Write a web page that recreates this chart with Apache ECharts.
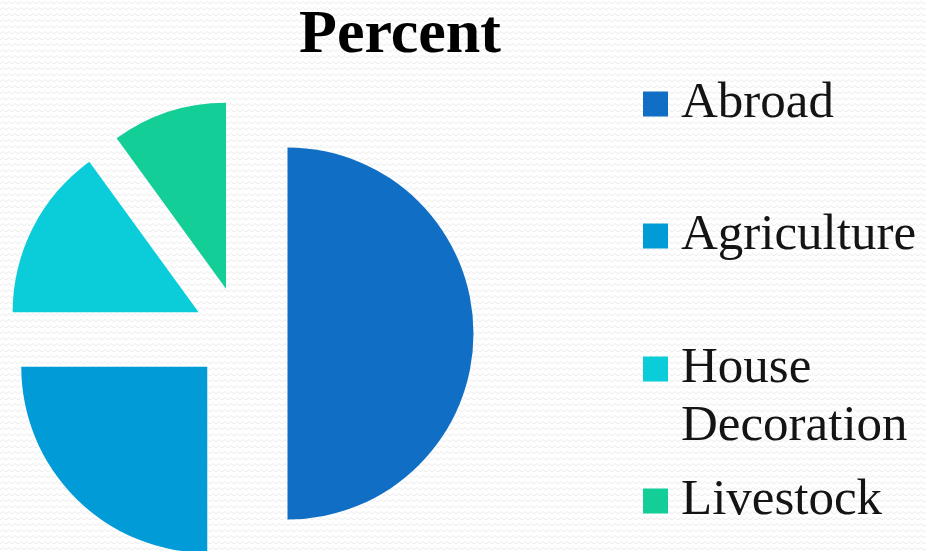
<!DOCTYPE html>
<html>
<head>
<meta charset="utf-8">
<style>
    html, body { margin: 0; padding: 0; background: #fff; }
    #chart { width: 926px; height: 551px; }
</style>
<script src="https://cdn.jsdelivr.net/npm/echarts@6/dist/echarts.min.js"></script>
</head>
<body>
<div id="chart"></div>
<script>
// data
var categories = ['Abroad', 'Agriculture', 'House Decoration', 'Livestock'];
var percents = [50, 25, 15, 10];
var colors = ['#106ec5', '#019cd7', '#0bcdd9', '#14ce98'];
var legendCenters = [104, 236, 369, 501];

// faint zigzag paper texture
function makePattern () {
    var c = document.createElement('canvas');
    c.width = 6;
    c.height = 6;
    var ctx = c.getContext('2d');
    ctx.fillStyle = '#ffffff';
    ctx.fillRect(0, 0, 6, 6);
    ctx.strokeStyle = '#ebebeb';
    ctx.lineWidth = 1;
    ctx.beginPath();
    ctx.moveTo(0, 4);
    ctx.lineTo(3, 1.5);
    ctx.lineTo(6, 4);
    ctx.stroke();
    return c;
}

var seriesData = categories.map(function (name, i) {
    return {
        name: name,
        value: percents[i],
        selected: true,
        itemStyle: { color: colors[i] }
    };
});

var LH = 58;
var legends = categories.map(function (name, i) {
    // the two-line label gets an empty first line so "House" sits level with the square
    var multi = name === 'House Decoration';
    var textH = multi ? LH * 3 : LH;
    return {
        data: [name],
        left: 638,
        top: legendCenters[i] - 5 - textH / 2,
        orient: 'vertical',
        itemWidth: 25,
        itemHeight: 25,
        itemGap: 0,
        icon: 'rect',
        selectedMode: false,
        formatter: function (n) {
            return n === 'House Decoration' ? '\nHouse\nDecoration' : n;
        },
        textStyle: {
            fontFamily: 'Liberation Serif',
            fontSize: 51,
            lineHeight: LH,
            color: '#141414',
            padding: [0, 0, 0, 8]
        }
    };
});

var myChart = echarts.init(document.getElementById('chart'));

myChart.setOption({
    animation: false,
    backgroundColor: { image: makePattern(), repeat: 'repeat' },
    title: {
        text: 'Percent',
        left: 400,
        textAlign: 'center',
        top: 5,
        padding: 0,
        textStyle: {
            fontFamily: 'Liberation Serif',
            fontSize: 62,
            fontWeight: 'bold',
            color: '#000'
        }
    },
    legend: legends,
    series: [{
        type: 'pie',
        center: [240.5, 333.5],
        radius: 186,
        startAngle: 90,
        clockwise: true,
        selectedMode: 'multiple',
        selectedOffset: 47,
        label: { show: false },
        labelLine: { show: false },
        emphasis: { disabled: true },
        itemStyle: { borderWidth: 0 },
        data: seriesData
    }]
});
</script>
</body>
</html>
